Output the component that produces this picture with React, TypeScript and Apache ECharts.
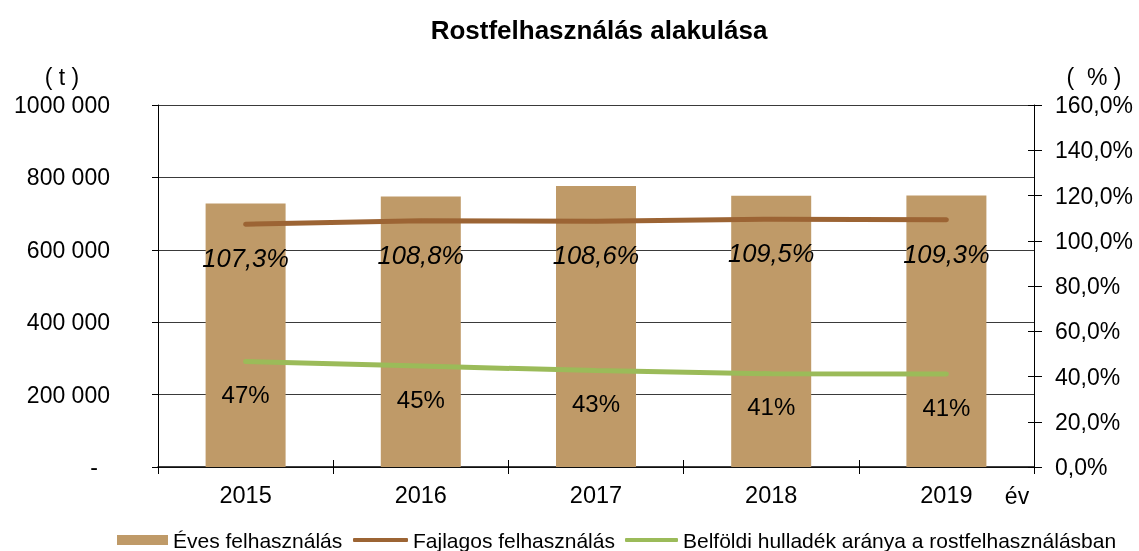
import React, { useEffect, useRef } from "react";
import * as echarts from "echarts";

const categories = ["2015", "2016", "2017", "2018", "2019"];
const annualUse = [728000, 747000, 776000, 749000, 750000];
const specificUse = [107.3, 108.8, 108.6, 109.5, 109.3];
const domesticWasteShare = [46.6, 44.6, 42.6, 41.2, 41.1];
const seriesNames = [
  "Éves felhasználás",
  "Fajlagos felhasználás",
  "Belföldi hulladék aránya a rostfelhasználásban",
];
const titleText = "Rostfelhasználás alakulása";

const FONT = "'Liberation Sans', Arial, sans-serif";
const BAR = "#BF9A68";
const BROWN = "#9C6434";
const GREEN = "#9BBB59";
const AX = 23;

export default function App() {
  const ref = useRef<HTMLDivElement>(null);
  useEffect(() => {
    document.body.style.margin = "0";
    const chart = echarts.init(ref.current!, null, { renderer: "svg" });
    const legendBase = {
      top: 529,
      orient: "horizontal",
      padding: 0,
      textStyle: { fontSize: 21, lineHeight: 22, color: "#000", fontFamily: FONT },
      selectedMode: false,
      itemGap: 0,
    };
    chart.setOption({
      animation: false,
      textStyle: { fontFamily: FONT },
      grid: { left: 158, right: 105, top: 105, bottom: 84 },
      graphic: [
        {
          type: "text",
          x: 599,
          y: 30,
          style: {
            text: titleText,
            font: `bold 26px ${FONT}`,
            fill: "#000",
            textAlign: "center",
            textVerticalAlign: "middle",
          },
        },
        {
          type: "text",
          x: 62,
          y: 77,
          style: { text: "( t )", font: `${AX}px ${FONT}`, fill: "#000", textAlign: "center", textVerticalAlign: "middle" },
        },
        {
          type: "text",
          x: 1094,
          y: 77,
          style: { text: "(  % )", font: `${AX}px ${FONT}`, fill: "#000", textAlign: "center", textVerticalAlign: "middle" },
        },
        {
          type: "text",
          x: 1017,
          y: 496,
          style: { text: "év", font: `${AX}px ${FONT}`, fill: "#000", textAlign: "center", textVerticalAlign: "middle" },
        },
      ],
      legend: [
        { ...legendBase, left: 117, itemWidth: 51, itemHeight: 10, icon: "rect", data: [seriesNames[0]] },
        { ...legendBase, left: 353, itemWidth: 55, itemHeight: 4, icon: "roundRect", data: [seriesNames[1]] },
        { ...legendBase, left: 625, itemWidth: 53, itemHeight: 4, icon: "roundRect", data: [seriesNames[2]] },
      ],
      xAxis: [
        {
          type: "category",
          data: categories,
          position: "bottom",
          axisLine: { show: true, lineStyle: { color: "#000", width: 1.5 } },
          axisTick: { show: true, inside: false, length: 7, lineStyle: { color: "#000" } },
          axisLabel: { fontSize: 23.5, color: "#000", margin: 16, fontFamily: FONT },
          splitLine: { show: false },
        },
        {
          type: "category",
          data: categories,
          position: "bottom",
          axisLine: { show: false },
          axisTick: { show: true, inside: true, length: 7, lineStyle: { color: "#000" } },
          axisLabel: { show: false },
          splitLine: { show: false },
        },
      ],
      yAxis: [
        {
          type: "value",
          min: 0,
          max: 1000000,
          interval: 200000,
          position: "left",
          axisLine: { show: true, lineStyle: { color: "#000" } },
          axisTick: { show: true, length: 6, lineStyle: { color: "#000" } },
          axisLabel: {
            fontSize: AX,
            color: "#000",
            margin: 48,
            fontFamily: FONT,
            formatter: (v: number) => (v === 0 ? "{d|-}" : `${v / 1000} 000`),
            rich: { d: { fontSize: AX, color: "#000", padding: [0, 12, 0, 0], fontFamily: FONT } },
          },
          splitLine: { show: true, lineStyle: { color: "#3a3a3a", width: 1 } },
        },
        {
          type: "value",
          min: 0,
          max: 160,
          interval: 20,
          position: "right",
          axisLine: { show: true, lineStyle: { color: "#000" } },
          axisTick: { show: true, length: 8, lineStyle: { color: "#000" } },
          axisLabel: {
            fontSize: AX,
            color: "#000",
            margin: 21,
            fontFamily: FONT,
            formatter: (v: number) => v.toFixed(1).replace(".", ",") + "%",
          },
          splitLine: { show: false },
        },
        {
          type: "value",
          min: 0,
          max: 160,
          interval: 20,
          position: "right",
          axisLine: { show: false },
          axisTick: { show: true, inside: true, length: 6, lineStyle: { color: "#000" } },
          axisLabel: { show: false },
          splitLine: { show: false },
        },
      ],
      series: [
        {
          name: seriesNames[0],
          type: "bar",
          data: annualUse,
          yAxisIndex: 0,
          barWidth: 80,
          itemStyle: { color: BAR },
        },
        {
          name: seriesNames[1],
          type: "line",
          data: specificUse,
          yAxisIndex: 1,
          symbol: "circle",
          symbolSize: 1,
          showSymbol: true,
          itemStyle: { color: BROWN },
          lineStyle: { color: BROWN, width: 5, cap: "round" },
          label: {
            show: true,
            position: "inside",
            offset: [0, 34],
            fontSize: 25.5,
            fontStyle: "italic",
            color: "#000",
            fontFamily: FONT,
            formatter: (p: any) => p.value.toFixed(1).replace(".", ",") + "%",
          },
        },
        {
          name: seriesNames[2],
          type: "line",
          data: domesticWasteShare,
          yAxisIndex: 1,
          symbol: "circle",
          symbolSize: 1,
          showSymbol: true,
          itemStyle: { color: GREEN },
          lineStyle: { color: GREEN, width: 5, cap: "round" },
          label: {
            show: true,
            position: "inside",
            offset: [0, 33],
            fontSize: 24,
            color: "#000",
            fontFamily: FONT,
            formatter: (p: any) => Math.round(p.value) + "%",
          },
        },
      ],
    });
    return () => chart.dispose();
  }, []);
  return <div ref={ref} style={{ position: "fixed", left: 0, top: 0, width: 1139, height: 551 }} />;
}
